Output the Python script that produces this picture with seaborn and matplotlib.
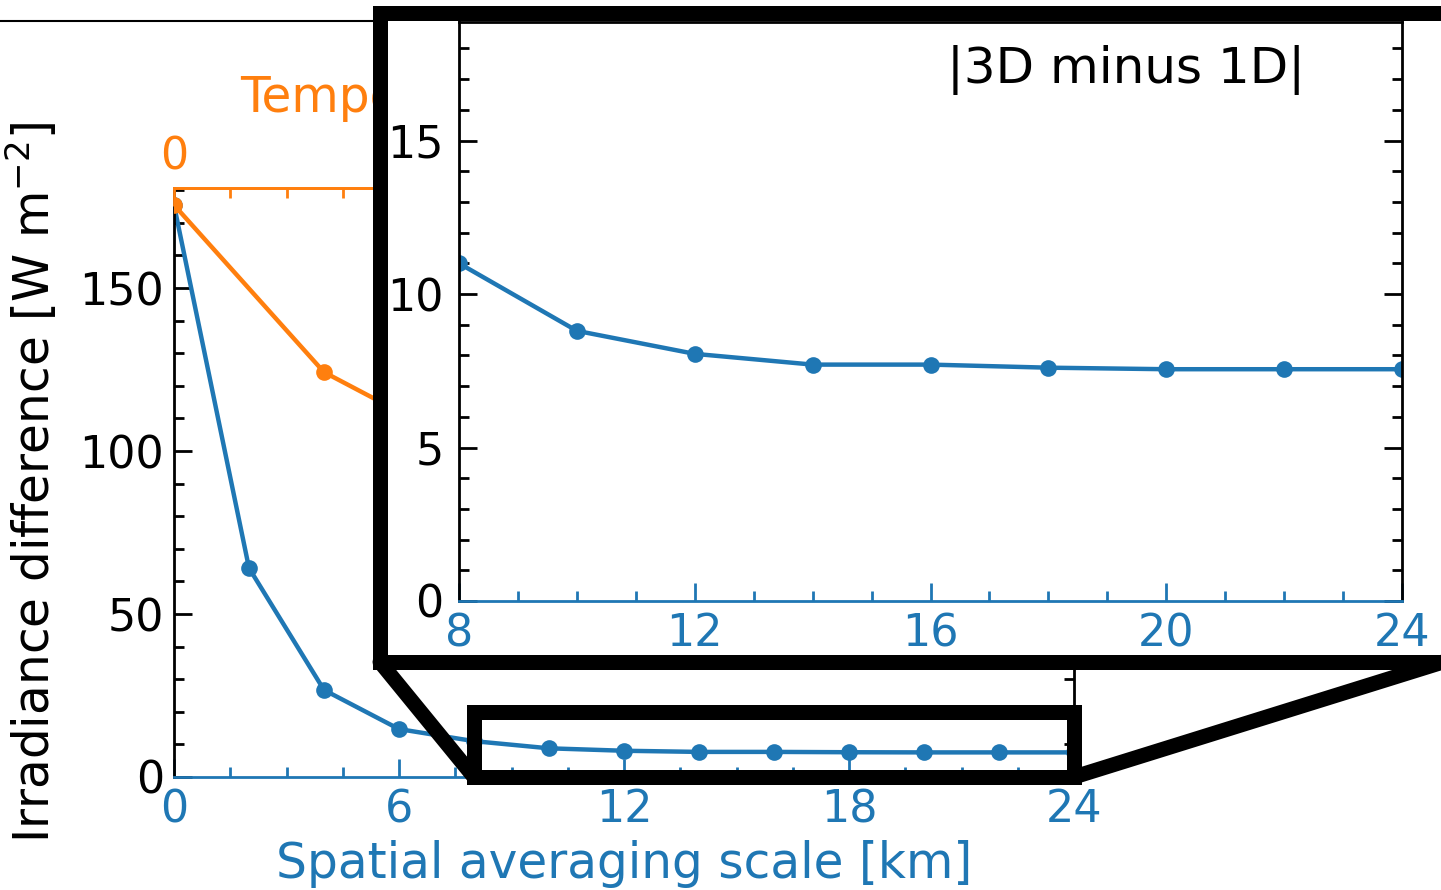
import matplotlib
matplotlib.use("Agg")
import matplotlib.pyplot as plt
import seaborn as sns
import pandas as pd
from matplotlib.patches import Rectangle, ConnectionPatch
from matplotlib.lines import Line2D
from matplotlib.ticker import MultipleLocator

# Spatial averaging: |3D minus 1D| irradiance difference
spatial_km = [0, 2, 4, 6, 8, 10, 12, 14, 16, 18, 20, 22, 24]
spatial_diff = [175.5, 64.1, 26.7, 14.7, 11.0, 8.8, 8.05, 7.7, 7.7, 7.6, 7.55, 7.55, 7.55]

# Temporal averaging (top axis)
temporal_pos = [0, 4, 8, 12, 16, 20, 24]
temporal_diff = [175.5, 124.2, 100.0, 90.0, 84.0, 80.0, 77.0]

xlabel_spatial = "Spatial averaging scale [km]"
xlabel_temporal = "Temporal averaging scale [min]"
ylabel = "Irradiance difference [W m$^{-2}$]"
inset_title = "|3D minus 1D|"

BLUE = "#1f77b4"
ORANGE = "#ff7f0e"

sns.set_theme(style="white")
plt.rcParams["font.family"] = ["DejaVu Sans"]
plt.rcParams["mathtext.fontset"] = "dejavusans"

W, H = 1441, 890
fig = plt.figure(figsize=(W / 100, H / 100), dpi=100)
fig.patch.set_facecolor("white")


def fbox(x0, y0, x1, y1):
    """Figure-fraction box from pixel edges (y measured from top)."""
    return [x0 / W, 1 - y1 / H, (x1 - x0) / W, (y1 - y0) / H]


spatial = pd.DataFrame({"km": spatial_km, "diff": spatial_diff})
temporal = pd.DataFrame({"t": temporal_pos, "diff": temporal_diff})

line_kw = dict(marker="o", markersize=12, linewidth=3.2, markeredgewidth=0)

# ---- main axes -------------------------------------------------------------
ax = fig.add_axes(fbox(174, 188, 1074, 777))
sns.lineplot(data=spatial, x="km", y="diff", ax=ax, color=BLUE, **line_kw)
ax.set_xlim(0, 24)
ax.set_ylim(0, 180.7)
ax.xaxis.set_major_locator(MultipleLocator(6))
ax.xaxis.set_minor_locator(MultipleLocator(1.5))
ax.yaxis.set_major_locator(MultipleLocator(50))
ax.yaxis.set_minor_locator(MultipleLocator(10))
ax.tick_params(axis="x", which="both", direction="in", colors=BLUE,
               top=False, bottom=True, labelsize=32, pad=8)
ax.tick_params(axis="y", which="both", direction="in", colors="black",
               left=True, right=True, labelsize=32, pad=7)
ax.tick_params(which="major", length=13, width=2)
ax.tick_params(which="minor", length=7, width=2)
ax.set_xlabel(xlabel_spatial, color=BLUE, fontsize=35)
ax.set_ylabel(ylabel, color="black", fontsize=35)
ax.xaxis.set_label_coords(0.5, -0.107)
ax.yaxis.set_label_coords(-0.127, 0.5)
for side in ("left", "right"):
    ax.spines[side].set_color("black")
ax.spines["bottom"].set_color(BLUE)
ax.spines["top"].set_color(ORANGE)
for s in ax.spines.values():
    s.set_linewidth(2)

# ---- temporal axis on top ----------------------------------------------------
ax2 = ax.twiny()
sns.lineplot(data=temporal, x="t", y="diff", ax=ax2, color=ORANGE, **line_kw)
ax2.set_xlim(0, 24)
ax2.set_ylim(0, 180.7)
ax2.xaxis.set_major_locator(MultipleLocator(6))
ax2.xaxis.set_minor_locator(MultipleLocator(1.5))
ax2.tick_params(axis="x", which="both", direction="in", colors=ORANGE,
                top=True, bottom=False, labelsize=32, pad=7)
ax2.tick_params(which="major", length=13, width=2)
ax2.tick_params(which="minor", length=7, width=2)
ax2.set_xlabel(xlabel_temporal, color=ORANGE, fontsize=35)
ax2.xaxis.set_label_coords(0.5, 1.129)
ax2.set_ylabel("")
for side in ("left", "right", "bottom"):
    ax2.spines[side].set_visible(False)
ax2.spines["top"].set_color(ORANGE)
ax2.spines["top"].set_linewidth(2)

# zoom region marker
ax.add_patch(Rectangle((8, 0), 16, 20, fill=False, ec="black", lw=10.8,
                       joinstyle="miter", clip_on=False, zorder=6))

# ---- inset frame ------------------------------------------------------------
frame = fig.add_axes(fbox(380, 13, 1443, 662))
frame.set_facecolor("white")
frame.set_xticks([])
frame.set_yticks([])
for s in frame.spines.values():
    s.set_color("black")
    s.set_linewidth(10.8)
    s.set_joinstyle("miter")

# ---- inset data axes --------------------------------------------------------
ins = fig.add_axes(fbox(459, 22, 1402, 601))
ins.set_facecolor("white")
sns.lineplot(data=spatial, x="km", y="diff", ax=ins, color=BLUE, **line_kw)
ins.set_xlim(8, 24)
ins.set_ylim(0, 18.86)
ins.xaxis.set_major_locator(MultipleLocator(4))
ins.xaxis.set_minor_locator(MultipleLocator(1))
ins.yaxis.set_major_locator(MultipleLocator(5))
ins.yaxis.set_minor_locator(MultipleLocator(1))
ins.tick_params(axis="x", which="both", direction="in", colors=BLUE,
                top=False, bottom=True, labelsize=32, pad=8)
ins.tick_params(axis="y", which="both", direction="in", colors="black",
                left=True, right=True, labelsize=32, pad=11)
ins.tick_params(which="major", length=13, width=2)
ins.tick_params(which="minor", length=7, width=2)
ins.set_xlabel("")
ins.set_ylabel("")
for side in ("left", "right", "top"):
    ins.spines[side].set_color("black")
ins.spines["bottom"].set_color(BLUE)
for s in ins.spines.values():
    s.set_linewidth(2)
ins.text(0.707, 0.917, inset_title, transform=ins.transAxes, fontsize=36,
         ha="center", va="center", color="black")

# connectors from the marked region to the inset frame
for xa, xb in ((8, 0), (24, 1)):
    con = ConnectionPatch(xyA=(xa, 0), coordsA=ax.transData,
                          xyB=(xb, 0), coordsB=frame.transAxes,
                          color="black", lw=10.8, zorder=10)
    fig.add_artist(con)

# header rule along the top
fig.add_artist(Line2D([0, 1], [1 - 21 / H, 1 - 21 / H], transform=fig.transFigure,
                      color="black", lw=1.5, zorder=-1))

fig.savefig("out.png", dpi=100, facecolor="white")
